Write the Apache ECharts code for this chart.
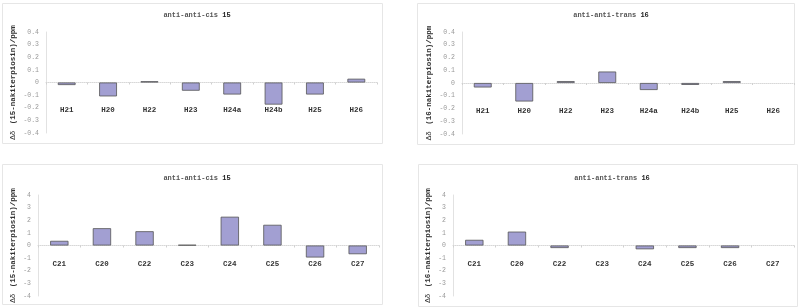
<!DOCTYPE html>
<html><head><meta charset="utf-8">
<script src="https://cdn.jsdelivr.net/npm/echarts@6/dist/echarts.min.js"></script>
<style>html,body{margin:0;padding:0;background:#fff}#c{width:800px;height:308px}</style>
</head><body><div id="c"></div>
<script>
const catsH = ['H21','H20','H22','H23','H24a','H24b','H25','H26'];
const cisH = [-0.02,-0.11,0.01,-0.065,-0.095,-0.175,-0.095,0.03];
const transH = [-0.035,-0.145,0.015,0.09,-0.055,-0.015,0.015,null];
const catsC = ['C21','C20','C22','C23','C24','C25','C26','C27'];
const cisC = [0.37,1.37,1.13,0.05,2.28,1.64,-0.95,-0.69];
const transC = [0.45,1.1,-0.2,null,-0.3,-0.2,-0.2,null];
const titles = [['anti-anti-cis ','15'],['anti-anti-trans ','16'],['anti-anti-cis ','15'],['anti-anti-trans ','16']];
const yNames = ['(15-nakiterpiosin)/ppm','(16-nakiterpiosin)/ppm','(15-nakiterpiosin)/ppm','(16-nakiterpiosin)/ppm'];

const FONT = 'Liberation Mono';
const grids = [
  {left:46, right:423, top:32, bottom:175},
  {left:462, right:6, top:32, bottom:174},
  {left:38, right:421, top:195, bottom:12},
  {left:453, right:6, top:195, bottom:12}
];
const titlePos = [{x:192,y:7},{x:606,y:7},{x:192,y:170},{x:607,y:170}];
const panels = [[2,3,380,140],[417,3,377,141],[2,164,380,140],[418,164,379,142]];
const cats = [catsH, catsH, catsC, catsC];
const vals = [cisH, transH, cisC, transC];
const yCfg = [
  {min:-0.4,max:0.4,interval:0.1,gap:24,margin:24,off:-50.5},
  {min:-0.4,max:0.4,interval:0.1,gap:23,margin:24,off:-51},
  {min:-4,max:4,interval:1,gap:16,margin:15,off:-50.5},
  {min:-4,max:4,interval:1,gap:15,margin:15,off:-50.5}
];

const option = {
  animation:false,
  backgroundColor:'#fff',
  title: titles.map((t,i)=>({
    text:'{n|'+t[0]+'}{b|'+t[1]+'}',
    left:titlePos[i].x, top:titlePos[i].y, textAlign:'center',
    textStyle:{rich:{
      n:{fontFamily:FONT,fontSize:7,color:'#555'},
      b:{fontFamily:FONT,fontSize:7,color:'#222',fontWeight:'bold'}
    }}
  })),
  graphic: panels.map(p=>({type:'rect',silent:true,z:-1,
    shape:{x:p[0]+0.5,y:p[1]+0.5,width:p[2],height:p[3]},
    style:{fill:'none',stroke:'#e6e6e6',lineWidth:1}})),
  grid: grids,
  xAxis: cats.map((c,i)=>({
    type:'category', gridIndex:i, data:c, position:'bottom', offset:yCfg[i].off,
    axisLine:{onZero:false,lineStyle:{color:'#d8d8d8',type:'dotted',width:1}},
    axisTick:{show:true,length:2,lineStyle:{color:'#d0d0d0'}},
    axisLabel:{margin:yCfg[i].margin,fontFamily:FONT,fontSize:7.5,fontWeight:'bold',color:'#333'},
    splitLine:{show:false}
  })),
  yAxis: yCfg.map((y,i)=>({
    type:'value', gridIndex:i, min:y.min, max:y.max, interval:y.interval,
    name:'{d|Δδ}  {b|'+yNames[i]+'}', nameLocation:'middle', nameGap:y.gap, nameRotate:90,
    nameTextStyle:{rich:{
      d:{fontFamily:FONT,fontSize:7.5,color:'#333'},
      b:{fontFamily:FONT,fontSize:7.5,fontWeight:'bold',color:'#333'}
    }},
    axisLine:{show:true,lineStyle:{color:'#e2e2e2'}},
    axisTick:{show:false},
    axisLabel:{margin:7,fontFamily:FONT,fontSize:6.5,color:'#999'},
    splitLine:{show:false}
  })),
  series: vals.map((v,i)=>({
    type:'bar', xAxisIndex:i, yAxisIndex:i, data:v, barWidth:'43%',
    itemStyle:{color:'#a29fd2',borderColor:'#555',borderWidth:0.8}
  }))
};
echarts.init(document.getElementById('c'),null,{renderer:'canvas'}).setOption(option);
</script></body></html>
